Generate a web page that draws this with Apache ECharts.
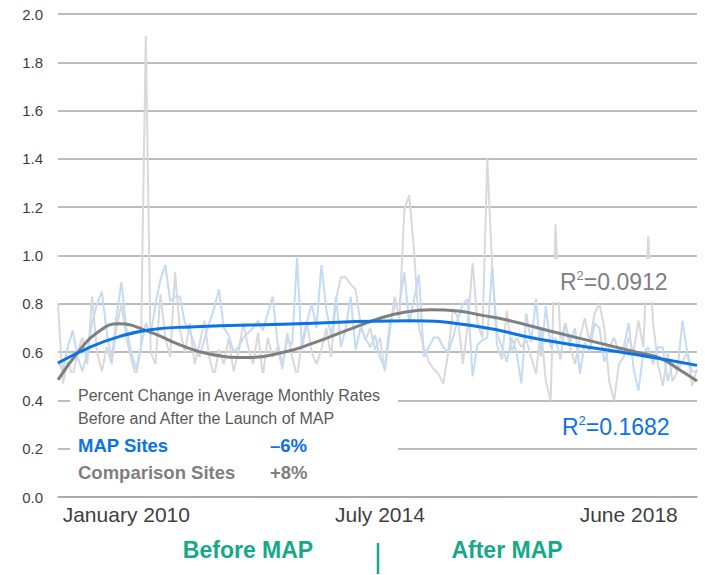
<!DOCTYPE html>
<html>
<head>
<meta charset="utf-8">
<script src="https://cdn.jsdelivr.net/npm/echarts@6/dist/echarts.min.js"></script>
<style>
  html, body { margin: 0; padding: 0; background: #fff; }
  #chart { width: 705px; height: 575px; }
</style>
</head>
<body>
<div id="chart"></div>
<script>
// monthly rates, one value per month (index 0..131)
const comparisonRates = [
  0.80, 0.47, 0.56, 0.50, 0.60, 0.66, 0.55, 0.83, 0.60, 0.52,
  0.62, 0.55, 0.70, 0.80, 0.66, 0.57, 0.50, 0.62, 1.91, 0.60,
  0.55, 0.84, 0.66, 0.58, 0.93, 0.69, 0.60, 0.72, 0.55, 0.63,
  0.73, 0.58, 0.50, 0.61, 0.55, 0.66, 0.52, 0.60, 0.72, 0.62,
  0.55, 0.68, 0.50, 0.66, 0.58, 0.62, 0.53, 0.68, 0.58, 0.50,
  0.64, 0.73, 0.60, 0.55, 0.61, 0.70, 0.58, 0.82, 0.91, 0.91,
  0.88, 0.86, 0.72, 0.65, 0.70, 0.61, 0.66, 0.52, 0.68, 0.83,
  0.74, 1.19, 1.25, 1.02, 0.70, 0.62, 0.56, 0.53, 0.51, 0.47,
  0.60, 0.78, 0.74, 0.55, 0.71, 0.97, 0.72, 0.66, 1.40, 0.96,
  0.63, 0.57, 0.77, 0.60, 0.66, 0.62, 0.65, 0.58, 0.51, 0.70,
  0.48, 0.40, 1.13, 0.65, 0.72, 0.62, 0.55, 0.66, 0.74, 0.64,
  0.76, 0.80, 0.70, 0.48, 0.40, 0.55, 0.58, 0.66, 0.60, 0.73,
  0.62, 1.08, 0.72, 0.55, 0.46, 0.60, 0.48, 0.52, 0.56, 0.60,
  0.46, 0.53
];
const mapRates = [
  0.56, 0.52, 0.62, 0.69, 0.58, 0.52, 0.60, 0.72, 0.80, 0.85,
  0.68, 0.57, 0.75, 0.89, 0.70, 0.60, 0.53, 0.62, 0.72, 0.67,
  0.80, 0.90, 0.96, 0.81, 0.83, 0.83, 0.72, 0.69, 0.63, 0.58,
  0.65, 0.72, 0.78, 0.86, 0.70, 0.67, 0.60, 0.62, 0.66, 0.68,
  0.70, 0.73, 0.69, 0.76, 0.83, 0.64, 0.55, 0.65, 0.63, 0.99,
  0.61, 0.72, 0.80, 0.70, 0.96, 0.78, 0.66, 0.83, 0.62, 0.70,
  0.83, 0.61, 0.70, 0.66, 0.62, 0.67, 0.58, 0.53, 0.72, 0.79,
  0.80, 0.93, 0.72, 0.82, 0.92, 0.58, 0.62, 0.66, 0.66, 0.62,
  0.60, 0.66, 0.74, 0.80, 0.82, 0.50, 0.63, 0.65, 0.66, 0.95,
  0.68, 0.62, 0.56, 0.66, 0.60, 0.47, 0.76, 0.64, 0.82, 0.58,
  0.79, 0.62, 0.66, 0.57, 0.72, 0.64, 0.70, 0.51, 0.64, 0.60,
  0.72, 0.70, 0.56, 0.62, 0.66, 0.60, 0.62, 0.72, 0.53, 0.44,
  0.60, 0.62, 0.55, 0.62, 0.62, 0.48, 0.55, 0.52, 0.73, 0.60,
  0.52, 0.52
];

// polynomial trend lines, read at a few months
const mapTrendIdx = [0, 6.5, 12.7, 18.9, 27, 47.5, 72, 86, 99, 119, 131];
const mapTrendVal = [0.555, 0.62, 0.665, 0.693, 0.704, 0.716, 0.73, 0.706, 0.652, 0.588, 0.545];
const compTrendIdx = [0, 4.5, 8, 12.4, 18.9, 25, 31, 38.5, 46, 52.3, 59.2, 66, 71, 76.5, 82, 87, 92, 102.3, 112.5, 119.3, 123.4, 127.5, 131];
const compTrendVal = [0.485, 0.61, 0.68, 0.717, 0.683, 0.63, 0.592, 0.578, 0.598, 0.637, 0.69, 0.74, 0.765, 0.775, 0.77, 0.752, 0.733, 0.68, 0.63, 0.596, 0.575, 0.526, 0.48];

const xLabelIdx = [14, 66, 117];
const xLabelText = ['January 2010', 'July 2014', 'June 2018'];

const BLUE = '#0b72e7';
const GRAY = '#7f7f7f';
const TEAL = '#14a98b';
const FONT = '"Liberation Sans", Arial, sans-serif';

const pairs = (xs, ys) => xs.map((x, i) => [x, ys[i]]);
const monthly = arr => arr.map((v, i) => [i, v]);

const chart = echarts.init(document.getElementById('chart'), null, { renderer: 'svg' });
chart.setOption({
    animation: false,
    textStyle: { fontFamily: FONT },
    grid: { left: 58, right: 8, top: 14, bottom: 78 },
    xAxis: {
        type: 'value',
        min: 0,
        max: comparisonRates.length - 1,
        splitLine: { show: false },
        axisTick: { show: false },
        axisLine: { show: true, lineStyle: { color: '#a6a6a6', width: 1.5 } },
        axisLabel: {
            customValues: xLabelIdx,
            formatter: v => xLabelText[xLabelIdx.indexOf(v)],
            fontSize: 21,
            color: '#404040',
            margin: 7,
            fontFamily: FONT
        }
    },
    yAxis: {
        type: 'value',
        min: 0,
        max: 2,
        interval: 0.2,
        axisLine: { show: false },
        axisTick: { show: false },
        splitLine: { lineStyle: { color: '#a6a6a6', width: 1.5 } },
        axisLabel: {
            formatter: v => v.toFixed(1),
            fontSize: 15,
            color: '#404040',
            margin: 15,
            fontFamily: FONT
        }
    },
    series: [
        {
            name: 'Comparison Sites',
            type: 'line',
            data: monthly(comparisonRates),
            symbol: 'none',
            lineStyle: { color: '#d9d9d9', width: 2 }
        },
        {
            name: 'MAP Sites',
            type: 'line',
            data: monthly(mapRates),
            symbol: 'none',
            lineStyle: { color: '#c3dbf5', width: 2 }
        },
        {
            name: 'Comparison trend',
            type: 'line',
            data: pairs(compTrendIdx, compTrendVal),
            symbol: 'none',
            smooth: true,
            lineStyle: { color: GRAY, width: 3 }
        },
        {
            name: 'MAP trend',
            type: 'line',
            data: pairs(mapTrendIdx, mapTrendVal),
            symbol: 'none',
            smooth: true,
            lineStyle: { color: BLUE, width: 3 }
        }
    ],
    graphic: [
        // white panel holding the summary text
        { type: 'rect', z: 100, shape: { x: 70, y: 373, width: 328, height: 120 }, style: { fill: '#fff' } },
        { type: 'text', z: 101, x: 78, y: 395, style: { text: 'Percent Change in Average Monthly Rates', fill: '#595959', font: '16px ' + FONT, verticalAlign: 'middle' } },
        { type: 'text', z: 101, x: 78, y: 418, style: { text: 'Before and After the Launch of MAP', fill: '#595959', font: '16px ' + FONT, verticalAlign: 'middle' } },
        { type: 'text', z: 101, x: 78, y: 445, style: { text: 'MAP Sites', fill: BLUE, font: 'bold 18.5px ' + FONT, verticalAlign: 'middle' } },
        { type: 'text', z: 101, x: 270, y: 445, style: { text: '\u20136%', fill: BLUE, font: 'bold 18.5px ' + FONT, verticalAlign: 'middle' } },
        { type: 'text', z: 101, x: 78, y: 472, style: { text: 'Comparison Sites', fill: GRAY, font: 'bold 18.5px ' + FONT, verticalAlign: 'middle' } },
        { type: 'text', z: 101, x: 270, y: 472, style: { text: '+8%', fill: GRAY, font: 'bold 18.5px ' + FONT, verticalAlign: 'middle' } },

        // R squared labels
        { type: 'rect', z: 100, shape: { x: 552, y: 259, width: 124, height: 43 }, style: { fill: '#fff' } },
        {
            type: 'text', z: 101, x: 560, y: 282,
            style: {
                text: '{a|R}{s|2}{a|=0.0912}', verticalAlign: 'middle',
                rich: {
                    a: { fontSize: 23, fontFamily: FONT, fill: GRAY, lineHeight: 26 },
                    s: { fontSize: 13, fontFamily: FONT, fill: GRAY, lineHeight: 26, verticalAlign: 'top' }
                }
            }
        },
        {
            type: 'text', z: 101, x: 562, y: 427,
            style: {
                text: '{a|R}{s|2}{a|=0.1682}', verticalAlign: 'middle',
                rich: {
                    a: { fontSize: 23, fontFamily: FONT, fill: BLUE, lineHeight: 26 },
                    s: { fontSize: 13, fontFamily: FONT, fill: BLUE, lineHeight: 26, verticalAlign: 'top' }
                }
            }
        },

        // before / after labels
        { type: 'text', z: 101, x: 248, y: 550, style: { text: 'Before MAP', fill: TEAL, font: 'bold 23px ' + FONT, align: 'center', verticalAlign: 'middle' } },
        { type: 'text', z: 101, x: 507, y: 550, style: { text: 'After MAP', fill: TEAL, font: 'bold 23px ' + FONT, align: 'center', verticalAlign: 'middle' } },
        { type: 'line', z: 101, shape: { x1: 378, y1: 543, x2: 378, y2: 574 }, style: { stroke: TEAL, lineWidth: 2.5 } }
    ]
});
</script>
</body>
</html>
